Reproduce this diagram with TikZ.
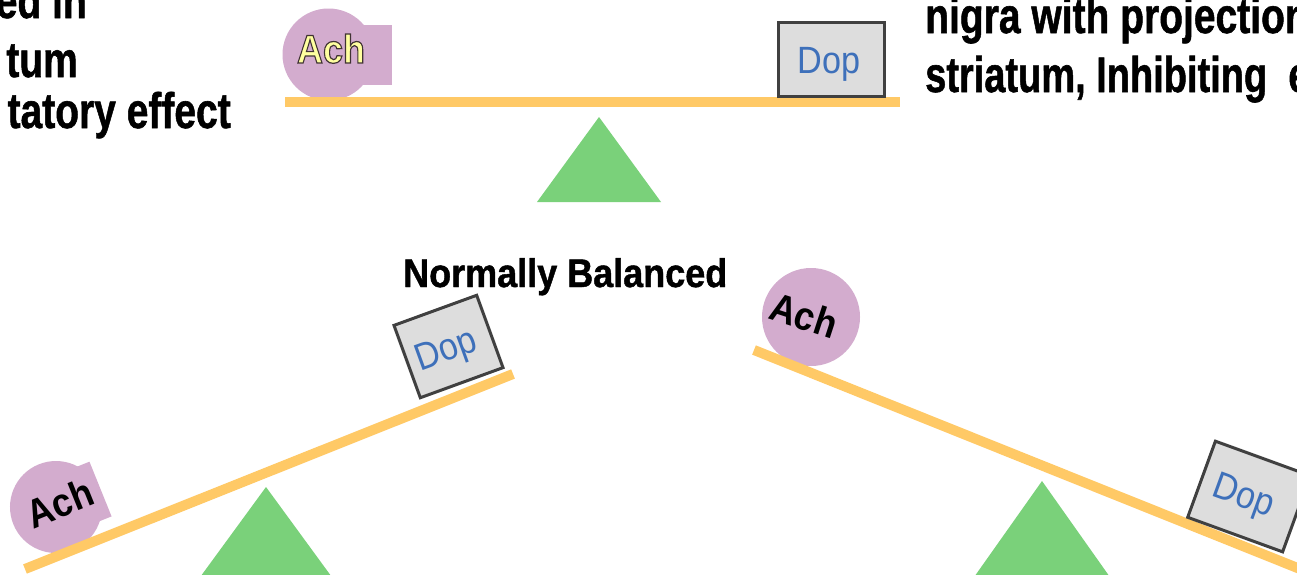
\documentclass[tikz,border=0pt]{standalone}
\usepackage{fontspec}
\setmainfont{Liberation Sans}
\newfontfamily\heavyfont{Liberation Sans Bold}[FakeBold=1.2]
\definecolor{barc}{RGB}{255,201,102}
\definecolor{achc}{RGB}{211,172,206}
\definecolor{trig}{RGB}{122,209,122}
\definecolor{dopfill}{RGB}{221,221,221}
\definecolor{dopline}{RGB}{64,64,64}
\definecolor{dopblue}{RGB}{62,112,186}
\definecolor{achyellow}{RGB}{255,255,160}
\tikzset{
  bar/.style={draw=barc, line width=10pt},
  fulcrum/.style={fill=trig, draw=none},
  achshape/.style={fill=achc, draw=none},
  dopbox/.style={draw=dopline, fill=dopfill, line width=3pt, inner sep=0pt},
  doptext/.style={text=dopblue, inner sep=0pt, font=\fontsize{38}{44}\selectfont},
  achtext/.style={inner sep=0pt, font=\fontsize{40}{46}\selectfont\bfseries},
  sidetext/.style={inner sep=0pt, font=\heavyfont\fontsize{50}{60}\selectfont},
}
\begin{document}
\begin{tikzpicture}[x=1pt,y=-1pt]
\useasboundingbox (0,0) rectangle (1297,574);
\clip (0,0) rectangle (1297,574);
\fill[white] (0,0) rectangle (1297,574);

% ---------- side texts ----------
\node[sidetext, anchor=base east] (l1) at (87,18) {\scalebox{0.78}[1]{ed in}};
\node[sidetext, anchor=base east] (l2) at (78,77) {\scalebox{0.78}[1]{tum}};
\node[sidetext, anchor=base east] (l3) at (231,128) {\scalebox{0.78}[1]{tatory effect}};
\node[sidetext, anchor=base west] (r1) at (925,33) {\scalebox{0.78}[1]{nigra with projection}};
\node[sidetext, anchor=base west] (r2) at (925,92) {\scalebox{0.76}[1]{striatum, Inhibiting\ \ e}};

% ---------- top seesaw ----------
\begin{scope}[shift={(328.5,54.5)}]
  \fill[achshape] (0,0) circle[radius=46];
  \fill[achshape] (16.5,-29.5) rectangle (63.5,30.5);
\end{scope}
\node[achtext, anchor=base, text=achyellow] (achtop) at (331,63) {\scalebox{0.9}[1]{\special{pdf:code 2 Tr 0.25 0.2 0.2 RG 1.2 w}Ach\special{pdf:code 0 Tr}}};
\coordinate (tbl) at (285,102);
\coordinate (tbr) at (900,102);
\draw[bar] (tbl) -- (tbr);
\node[dopbox, minimum width=106pt, minimum height=74pt] (doptopbox) at (831,59) {};
\node[doptext, anchor=base] (doptop) at (829,73) {\scalebox{0.9}[1]{Dop}};
\fill[fulcrum] (599,117) -- (661,202) -- (537,202) -- cycle;

% ---------- label ----------
\node[inner sep=0pt, anchor=base west, font=\heavyfont\fontsize{40}{46}\selectfont] (bal) at (403,287) {\scalebox{0.9}[1]{Normally Balanced}};

% ---------- bottom-left seesaw ----------
\begin{scope}[shift={(56,507)}, rotate=22]
  \fill[achshape] (0,0) circle[radius=46];
  \fill[achshape] (16.5,-29.5) rectangle (48,29.5);
\end{scope}
\node[achtext, rotate=22] (achbl) at (60,503) {\scalebox{0.9}[1]{Ach}};
\coordinate (blA) at (25,569);
\coordinate (blB) at (513,374);
\draw[bar] (blA) -- (blB);
\node[dopbox, minimum width=88pt, minimum height=77pt, rotate=20] (dopblbox) at (448.5,346.5) {};
\node[doptext, rotate=20] (dopbl) at (447,352) {\scalebox{0.9}[1]{Dop}};
\fill[fulcrum] (266,487) -- (334,580) -- (198,580) -- cycle;

% ---------- bottom-right seesaw ----------
\fill[achshape] (811,317) circle[radius=49];
\node[achtext, rotate=-18] (achbr) at (804,315) {\scalebox{0.9}[1]{Ach}};
\coordinate (brA) at (754,350);
\coordinate (brB) at (1320,577);
\draw[bar] (brA) -- (brB);
\node[dopbox, minimum width=101pt, minimum height=81pt, rotate=-20] (dopbrbox) at (1249,496.5) {};
\node[doptext, rotate=-20] (dopbr) at (1243,498) {\scalebox{0.9}[1]{Dop}};
\fill[fulcrum] (1042,481) -- (1112,580) -- (972,580) -- cycle;
\end{tikzpicture}
\end{document}
